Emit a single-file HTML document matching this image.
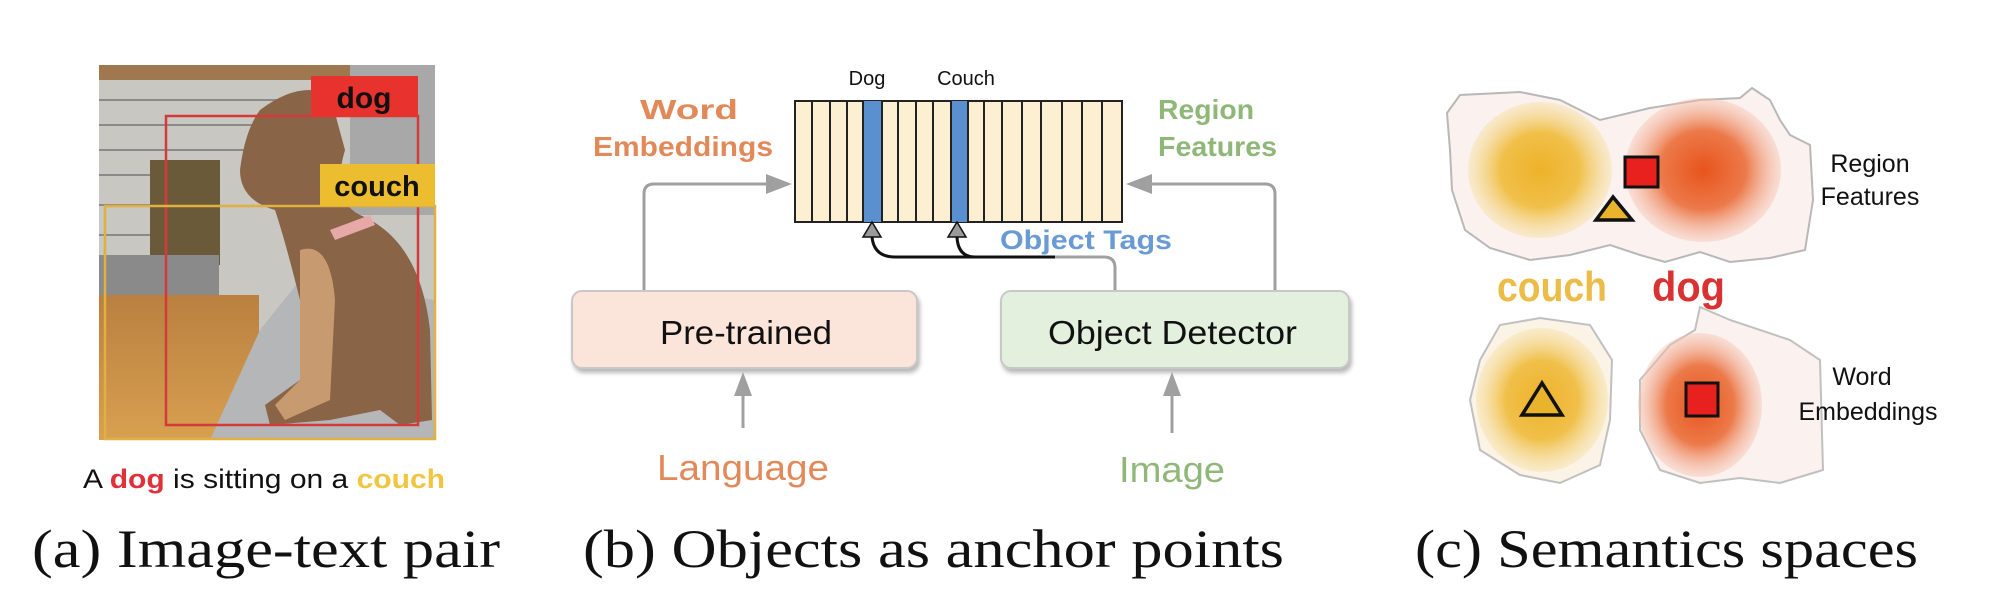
<!DOCTYPE html>
<html><head><meta charset="utf-8"><style>
html,body{margin:0;padding:0;background:#fff;}
svg{display:block}
.s{font-family:"Liberation Sans",sans-serif}
.r{font-family:"Liberation Serif",serif}
</style></head><body>
<svg width="2000" height="615" viewBox="0 0 2000 615" xmlns="http://www.w3.org/2000/svg">
<defs>
<radialGradient id="yg" cx="50%" cy="50%" r="50%"><stop offset="0" stop-color="#eeb22a"/><stop offset="0.55" stop-color="#f0c04a"/><stop offset="1" stop-color="#f7e3b0" stop-opacity="0.5"/></radialGradient>
<radialGradient id="rg" cx="50%" cy="50%" r="50%"><stop offset="0" stop-color="#e8541c"/><stop offset="0.55" stop-color="#ec7a4a"/><stop offset="1" stop-color="#f5c2b0" stop-opacity="0.4"/></radialGradient>
<linearGradient id="fl" x1="0" y1="0" x2="0" y2="1"><stop offset="0" stop-color="#b98040"/><stop offset="1" stop-color="#d8a050"/></linearGradient>
<filter id="sh" x="-10%" y="-10%" width="130%" height="140%"><feDropShadow dx="2" dy="4" stdDeviation="2" flood-color="#888" flood-opacity="0.6"/></filter>
</defs>

<!-- (a) photo -->
<rect x="99" y="65" width="336" height="375" fill="#c9c7c2"/>
<rect x="99" y="65" width="336" height="15" fill="#a07850"/>
<g stroke="#8a8a8a" stroke-width="2">
<line x1="99" y1="100" x2="300" y2="100"/><line x1="99" y1="125" x2="300" y2="125"/><line x1="99" y1="150" x2="300" y2="150"/><line x1="99" y1="175" x2="200" y2="175"/><line x1="99" y1="205" x2="200" y2="205"/><line x1="99" y1="235" x2="200" y2="235"/>
</g>
<rect x="350" y="65" width="85" height="150" fill="#a8a8a8"/>
<rect x="150" y="160" width="70" height="105" fill="#6a5a3a"/>
<rect x="99" y="255" width="120" height="40" fill="#8a8a8a"/>
<rect x="99" y="295" width="160" height="145" fill="url(#fl)"/>
<path d="M210 440 L260 330 L300 280 L435 300 L435 440 Z" fill="#b4b6b8"/>
<path d="M260 110 Q300 80 330 95 L345 150 Q330 200 360 215 Q420 240 430 330 L432 420 L400 425 L380 410 L330 420 L270 425 L265 405 L300 380 L300 300 Q285 240 275 210 Q240 200 240 170 Q245 130 260 110 Z" fill="#8a6446"/>
<path d="M300 250 Q330 240 335 300 L330 400 L285 420 L275 405 L300 380 Z" fill="#c89a70"/>
<path d="M330 230 L370 215 L375 225 L335 240 Z" fill="#e7a8a8"/>
<rect x="166" y="116" width="252" height="309" fill="none" stroke="#d53a3a" stroke-width="2.5"/>
<rect x="311" y="76" width="107" height="41" fill="#e8322e"/>
<text x="364" y="108" class="s" font-size="30" font-weight="bold" text-anchor="middle" fill="#111">dog</text>
<rect x="105" y="206" width="330" height="233" fill="none" stroke="#e0b040" stroke-width="2.5"/>
<rect x="320" y="164" width="115" height="42" fill="#ecbd2f"/>
<text x="377" y="196" class="s" font-size="29" font-weight="bold" text-anchor="middle" fill="#111">couch</text>
<text x="83" y="488" class="s" font-size="27" fill="#111" textLength="362" lengthAdjust="spacingAndGlyphs">A <tspan fill="#e0303a" font-weight="bold">dog</tspan> is sitting on a <tspan fill="#f0c640" font-weight="bold">couch</tspan></text>
<text x="32" y="567" class="r" font-size="54" fill="#111" textLength="468" lengthAdjust="spacingAndGlyphs">(a) Image-text pair</text>

<!-- (b) -->
<text x="867" y="85" class="s" font-size="20" text-anchor="middle" fill="#111">Dog</text>
<text x="966" y="85" class="s" font-size="20" text-anchor="middle" fill="#111">Couch</text>
<rect x="795" y="101" width="327" height="121" fill="#fdefd2" stroke="#222" stroke-width="2"/>
<rect x="863" y="101" width="19" height="121" fill="#5a8fd0"/>
<rect x="951" y="101" width="17" height="121" fill="#5a8fd0"/>
<g stroke="#222" stroke-width="2">
<line x1="812" y1="101" x2="812" y2="222"/><line x1="830" y1="101" x2="830" y2="222"/><line x1="847" y1="101" x2="847" y2="222"/><line x1="863" y1="101" x2="863" y2="222"/><line x1="882" y1="101" x2="882" y2="222"/><line x1="898" y1="101" x2="898" y2="222"/><line x1="916" y1="101" x2="916" y2="222"/><line x1="933" y1="101" x2="933" y2="222"/><line x1="951" y1="101" x2="951" y2="222"/><line x1="968" y1="101" x2="968" y2="222"/><line x1="984" y1="101" x2="984" y2="222"/><line x1="1002" y1="101" x2="1002" y2="222"/><line x1="1022" y1="101" x2="1022" y2="222"/><line x1="1041" y1="101" x2="1041" y2="222"/><line x1="1062" y1="101" x2="1062" y2="222"/><line x1="1082" y1="101" x2="1082" y2="222"/><line x1="1102" y1="101" x2="1102" y2="222"/>
</g>
<text x="640" y="119" class="s" font-size="28" font-weight="bold" fill="#e2895a" textLength="98" lengthAdjust="spacingAndGlyphs">Word</text>
<text x="593" y="156" class="s" font-size="28" font-weight="bold" fill="#e2895a" textLength="180" lengthAdjust="spacingAndGlyphs">Embeddings</text>
<text x="1158" y="119" class="s" font-size="28" font-weight="bold" fill="#8fb878" textLength="96" lengthAdjust="spacingAndGlyphs">Region</text>
<text x="1158" y="156" class="s" font-size="28" font-weight="bold" fill="#8fb878" textLength="119" lengthAdjust="spacingAndGlyphs">Features</text>
<path d="M644 290 V194 Q644 184 654 184 H770" fill="none" stroke="#a0a0a0" stroke-width="3"/>
<polygon points="792,184 766,174 766,194" fill="#a0a0a0"/>
<path d="M1275 290 V194 Q1275 184 1265 184 H1148" fill="none" stroke="#a0a0a0" stroke-width="3"/>
<polygon points="1126,184 1152,174 1152,194" fill="#a0a0a0"/>
<path d="M1115 290 V268 Q1115 257 1104 257 H1055" fill="none" stroke="#a0a0a0" stroke-width="3"/>
<path d="M1055 257 H895 Q874 257 872 237" fill="none" stroke="#111" stroke-width="3"/>
<path d="M975 257 Q958 257 957 237" fill="none" stroke="#111" stroke-width="3"/>
<polygon points="872,222 863,237 881,237" fill="#9a9a9a" stroke="#111" stroke-width="1.5"/>
<polygon points="957,222 948,237 966,237" fill="#9a9a9a" stroke="#111" stroke-width="1.5"/>
<text x="1000" y="249" class="s" font-size="27" font-weight="bold" fill="#6a9ad4" textLength="172" lengthAdjust="spacingAndGlyphs">Object Tags</text>
<rect x="572" y="291" width="345" height="77" rx="10" fill="#fbe4da" stroke="#c8c8c8" stroke-width="2" filter="url(#sh)"/>
<text x="660" y="344" class="s" font-size="33" fill="#111" textLength="172" lengthAdjust="spacingAndGlyphs">Pre-trained</text>
<rect x="1001" y="291" width="348" height="77" rx="10" fill="#e4f0de" stroke="#c8c8c8" stroke-width="2" filter="url(#sh)"/>
<text x="1048" y="344" class="s" font-size="33" fill="#111" textLength="249" lengthAdjust="spacingAndGlyphs">Object Detector</text>
<line x1="743" y1="428" x2="743" y2="395" stroke="#a0a0a0" stroke-width="3"/>
<polygon points="743,372 734,396 752,396" fill="#a0a0a0"/>
<line x1="1172" y1="433" x2="1172" y2="395" stroke="#a0a0a0" stroke-width="3"/>
<polygon points="1172,372 1163,396 1181,396" fill="#a0a0a0"/>
<text x="657" y="480" class="s" font-size="36" fill="#e2895a" textLength="172" lengthAdjust="spacingAndGlyphs">Language</text>
<text x="1119" y="482" class="s" font-size="36" fill="#8fb878" textLength="106" lengthAdjust="spacingAndGlyphs">Image</text>
<text x="583" y="567" class="r" font-size="54" fill="#111" textLength="701" lengthAdjust="spacingAndGlyphs">(b) Objects as anchor points</text>

<!-- (c) -->
<path d="M1447 113 L1460 95 L1520 92 L1560 100 L1600 120 L1650 108 L1700 100 L1740 98 L1752 88 L1770 100 L1780 120 L1790 135 L1810 145 L1813 200 L1805 250 L1770 258 L1730 262 L1700 252 L1665 262 L1640 255 L1610 245 L1570 255 L1530 260 L1490 248 L1465 230 L1452 190 L1450 150 Z" fill="#fbf1ee" stroke="#b8b8b8" stroke-width="2"/>
<ellipse cx="1540" cy="170" rx="72" ry="68" fill="url(#yg)"/>
<ellipse cx="1703" cy="170" rx="78" ry="72" fill="url(#rg)"/>
<rect x="1625" y="157" width="33" height="30" fill="#e8201e" stroke="#111" stroke-width="3"/>
<polygon points="1613,197 1596,220 1632,220" fill="#eab32c" stroke="#111" stroke-width="3.5"/>
<text x="1870" y="172" class="s" font-size="25" text-anchor="middle" fill="#111">Region</text>
<text x="1870" y="205" class="s" font-size="25" text-anchor="middle" fill="#111">Features</text>
<text x="1497" y="301" class="s" font-size="42" font-weight="bold" fill="#ecbc48" textLength="110" lengthAdjust="spacingAndGlyphs">couch</text>
<text x="1652" y="301" class="s" font-size="42" font-weight="bold" fill="#d93232" textLength="73" lengthAdjust="spacingAndGlyphs">dog</text>
<path d="M1500 325 L1540 318 L1590 325 L1612 360 L1610 420 L1600 465 L1560 483 L1520 475 L1480 450 L1470 400 L1480 360 Z" fill="#fbf3e6" stroke="#c0c0c0" stroke-width="2"/>
<ellipse cx="1542" cy="400" rx="66" ry="72" fill="url(#yg)"/>
<path d="M1700 307 L1730 320 L1790 340 L1820 360 L1823 470 L1780 483 L1740 478 L1700 483 L1660 470 L1640 430 L1640 380 L1670 345 L1695 330 Z" fill="#fbf1ee" stroke="#c0c0c0" stroke-width="2"/>
<ellipse cx="1700" cy="405" rx="62" ry="72" fill="url(#rg)"/>
<rect x="1686" y="383" width="32" height="33" fill="#e8201e" stroke="#111" stroke-width="3"/>
<polygon points="1542,383 1522,415 1562,415" fill="#eab32c" stroke="#111" stroke-width="3.5"/>
<text x="1862" y="385" class="s" font-size="25" text-anchor="middle" fill="#111">Word</text>
<text x="1868" y="420" class="s" font-size="25" text-anchor="middle" fill="#111">Embeddings</text>
<text x="1415" y="567" class="r" font-size="54" fill="#111" textLength="503" lengthAdjust="spacingAndGlyphs">(c) Semantics spaces</text>
</svg>
</body></html>
